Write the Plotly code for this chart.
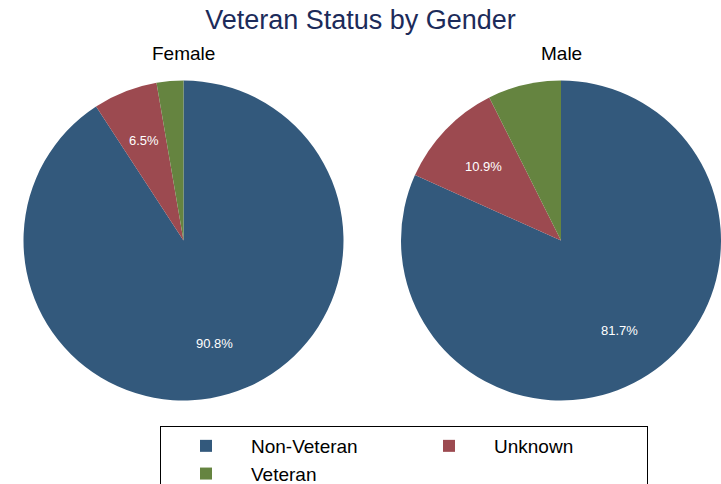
import math
import plotly.graph_objects as go

categories = ["Non-Veteran", "Unknown", "Veteran"]
female_values = [90.8, 6.5, 2.7]
male_values = [81.7, 10.9, 7.4]
show_label = [True, True, False]
colors = ["#33597C", "#9C4A50", "#658440"]

W, H = 721, 484
R = 160          # pie radius in px
CY = 240.5       # pie centre (px from top)
LABEL_R = 0.67   # label distance as fraction of radius


def dom(cx, cy):
    return dict(x=[max(0.0, (cx - R) / W), min(1.0, (cx + R) / W)],
                y=[1 - (cy + R) / H, 1 - (cy - R) / H])


def slice_labels(vals, cx, cy):
    """Percent labels at 2/3 radius along each slice's mid-angle (clockwise from 12 o'clock)."""
    out = []
    total = sum(vals)
    cum = 0.0
    for v, s in zip(vals, show_label):
        mid = (cum + v / 2) / total * 2 * math.pi
        cum += v
        if not s:
            continue
        px = cx + LABEL_R * R * math.sin(mid)
        py = cy - LABEL_R * R * math.cos(mid)
        out.append(dict(text=f"{v:.1f}%", x=px / W, y=1 - py / H, xref="paper", yref="paper",
                        xanchor="center", yanchor="middle", showarrow=False,
                        font=dict(size=13, color="white", family="Liberation Sans")))
    return out


fig = go.Figure()
annotations = []
for name, vals, cx, show in [("Female", female_values, 183.5, True),
                             ("Male", male_values, 561, False)]:
    fig.add_trace(go.Pie(
        labels=categories, values=vals, sort=False, direction="clockwise",
        rotation=0, textinfo="none",
        marker=dict(colors=colors, line=dict(width=0)),
        domain=dom(cx, CY), showlegend=show, name=name,
        hoverinfo="label+percent",
    ))
    annotations += slice_labels(vals, cx, CY)
    annotations.append(dict(text=name, x=cx / W, y=1 - 53 / H, xref="paper", yref="paper",
                            xanchor="center", yanchor="middle", showarrow=False,
                            font=dict(size=19, color="black")))

fig.update_layout(
    width=W, height=H, margin=dict(l=0, r=0, t=0, b=0, autoexpand=False),
    paper_bgcolor="white", plot_bgcolor="white",
    font=dict(family="Liberation Sans", color="black"),
    title=dict(text="Veteran Status by Gender", x=0.5, xanchor="center",
               y=1 - 20 / H, yanchor="middle",
               font=dict(size=27, color="#1C2B5A", family="Liberation Sans")),
    annotations=annotations,
    legend=dict(orientation="h", x=160 / W, xanchor="left", y=1 - 426 / H, yanchor="top",
                bordercolor="black", borderwidth=1, bgcolor="white",
                font=dict(size=19, color="black"), itemwidth=80, entrywidth=148,
                traceorder="normal"),
)

fig.write_html("out.html", config={"displayModeBar": False},
               post_script="document.body.style.margin='0';document.body.style.overflow='hidden';")
